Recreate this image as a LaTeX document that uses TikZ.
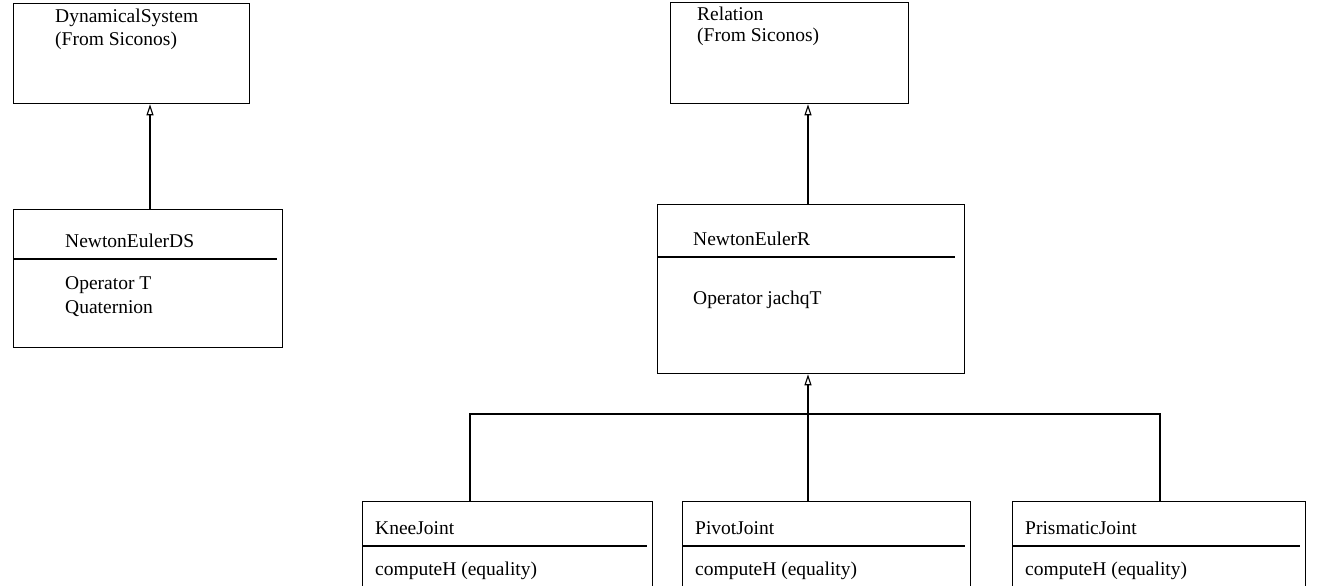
\documentclass[tikz,border=0pt]{standalone}
\usepackage{fontspec}
\setmainfont{Liberation Serif}
\usetikzlibrary{arrows.meta}
\begin{document}
\begin{tikzpicture}[x=1pt,y=-1pt,
  classbox/.style={draw, line width=1.3pt, rectangle, inner sep=0pt, anchor=north west},
  txt/.style={anchor=west, inner sep=0pt, font=\fontsize{19.5}{22}\selectfont},
  sep/.style={line width=1.3pt},
  inherit/.style={line width=1.3pt, -{Triangle[open, length=11pt, width=7pt, line width=1.1pt]}}]
\useasboundingbox (0,0) rectangle (1331,586);
\clip (0,0) rectangle (1331,586);

% upper left: DynamicalSystem and NewtonEulerDS
\node[classbox, minimum width=236pt, minimum height=100pt] (ds) at (13,3) {};
\node[txt] (dst) at (55,18) {DynamicalSystem};
\node[txt] (dss) at (55,41) {(From Siconos)};

\node[classbox, minimum width=269pt, minimum height=138pt] (neds) at (13,209) {};
\node[txt] (nedst) at (65,241) {NewtonEulerDS};
\coordinate (nedsr) at (277,259);
\draw[sep] (neds.west |- nedsr) -- (nedsr);
\node[txt] (nedsa) at (65,285) {Operator T};
\node[txt] (nedsb) at (65,309) {Quaternion};

\coordinate (nedsin) at (150,209);
\draw[inherit] (nedsin) -- (nedsin |- ds.south);

% upper right: Relation and NewtonEulerR
\node[classbox, minimum width=238pt, minimum height=101pt] (rel) at (670,2) {};
\node[txt] (relt) at (697,14) {Relation};
\node[txt] (rels) at (697,37) {(From Siconos)};

\node[classbox, minimum width=307pt, minimum height=169pt] (ner) at (657,204) {};
\node[txt] (nert) at (693,239) {NewtonEulerR};
\coordinate (nerr) at (955,257);
\draw[sep] (ner.west |- nerr) -- (nerr);
\node[txt] (nera) at (693,300) {Operator jachqT};

\coordinate (nerin) at (808,204);
\draw[inherit] (nerin) -- (nerin |- rel.south);

% joints
\node[classbox, minimum width=290pt, minimum height=120pt] (knee) at (362,501) {};
\node[txt] (kneet) at (375,528) {KneeJoint};
\coordinate (kneer) at (647,546);
\draw[sep] (knee.west |- kneer) -- (kneer);
\node[txt] (kneea) at (375,571) {computeH (equality)};

\node[classbox, minimum width=288pt, minimum height=120pt] (pivot) at (682,501) {};
\node[txt] (pivott) at (695,528) {PivotJoint};
\coordinate (pivotr) at (965,546);
\draw[sep] (pivot.west |- pivotr) -- (pivotr);
\node[txt] (pivota) at (695,571) {computeH (equality)};

\node[classbox, minimum width=293pt, minimum height=120pt] (prism) at (1012,501) {};
\node[txt] (prismt) at (1025,528) {PrismaticJoint};
\coordinate (prismr) at (1300,546);
\draw[sep] (prism.west |- prismr) -- (prismr);
\node[txt] (prisma) at (1025,571) {computeH (equality)};

% generalisation tree towards NewtonEulerR
\coordinate (kneein) at (470,501);
\coordinate (pivotin) at (808,501);
\coordinate (prismin) at (1160,501);
\coordinate (busl) at (470,414);
\coordinate (busr) at (1160,414);
\draw[sep] (kneein) -- (busl) -- (busr) -- (prismin);
\draw[inherit] (pivotin) -- (pivotin |- ner.south);
\end{tikzpicture}
\end{document}
